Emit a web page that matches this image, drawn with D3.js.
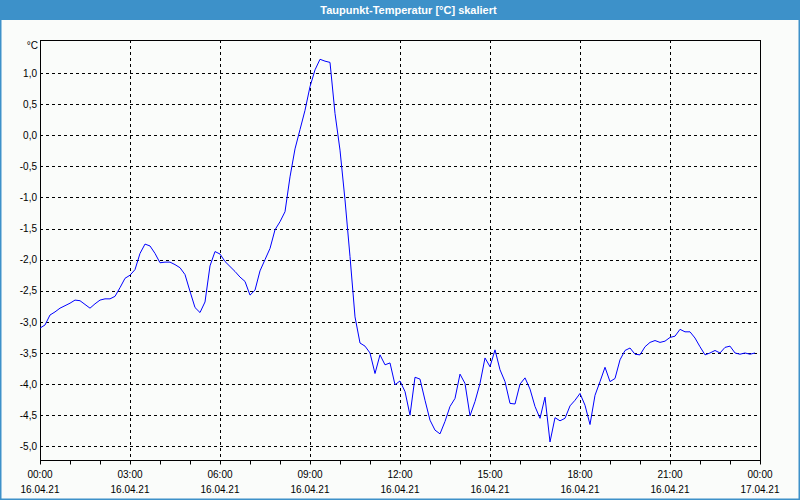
<!DOCTYPE html>
<html><head><meta charset="utf-8">
<script src="https://cdn.jsdelivr.net/npm/d3@7"></script>
<style>
body{margin:0;background:#fff}
svg text{font-family:"Liberation Sans",Arial,sans-serif}
</style>
</head><body>
<svg id="c" width="800" height="500"></svg>
<script>
const title = "Taupunkt-Temperatur [°C] skaliert";
const unitLabel = "°C";
const startTime = new Date(2021, 3, 16, 0, 0);
const endTime = new Date(2021, 3, 17, 0, 0);
const stepMinutes = 10;
// dew point, one value every 10 minutes from 16.04.21 00:00
const dewPoint = [
 -3.10,-3.05,-2.89,-2.84,-2.78,-2.74,-2.70,-2.65,-2.66,-2.72,
 -2.78,-2.71,-2.65,-2.63,-2.63,-2.59,-2.45,-2.30,-2.25,-2.16,
 -1.90,-1.75,-1.78,-1.90,-2.05,-2.04,-2.04,-2.08,-2.13,-2.24,
 -2.51,-2.77,-2.85,-2.68,-2.10,-1.87,-1.91,-2.03,-2.11,-2.19,
 -2.28,-2.35,-2.57,-2.49,-2.18,-2.00,-1.82,-1.52,-1.39,-1.23,
 -0.67,-0.22, 0.09, 0.40, 0.78, 1.05, 1.22, 1.19, 1.17, 0.35,
 -0.24,-1.04,-1.95,-2.92,-3.34,-3.39,-3.50,-3.83,-3.53,-3.69,
 -3.66,-4.01,-3.95,-4.12,-4.50,-3.89,-3.92,-4.26,-4.58,-4.74,
 -4.80,-4.60,-4.36,-4.23,-3.84,-3.99,-4.51,-4.28,-3.99,-3.58,
 -3.72,-3.45,-3.77,-3.96,-4.31,-4.32,-4.00,-3.90,-4.08,-4.36,
 -4.55,-4.21,-4.93,-4.54,-4.59,-4.55,-4.35,-4.26,-4.15,-4.34,
 -4.65,-4.18,-3.96,-3.73,-3.96,-3.91,-3.61,-3.46,-3.42,-3.52,
 -3.53,-3.40,-3.33,-3.30,-3.33,-3.31,-3.25,-3.23,-3.12,-3.16,
 -3.16,-3.26,-3.40,-3.53,-3.50,-3.46,-3.50,-3.41,-3.39,-3.50,
 -3.52,-3.50,-3.52,-3.50
];
const yTicks = [1.0,0.5,0.0,-0.5,-1.0,-1.5,-2.0,-2.5,-3.0,-3.5,-4.0,-4.5,-5.0];
const yDomain = [-5.22, 1.53];
const xLabelStepHours = 3;

const W = 800, H = 500;
const m = {left:40, right:40, top:40, bottom:40};
const svg = d3.select("#c");

const locale = d3.formatLocale({decimal:",", thousands:".", grouping:[3], currency:["","€"], minus:"-"});
const fmtY = locale.format(".1f");
const fmtTime = d3.timeFormat("%H:%M");
const fmtDate = d3.timeFormat("%d.%m.%y");

const data = dewPoint.map((v,i)=>({t:d3.timeMinute.offset(startTime, i*stepMinutes), v}));

const x = d3.scaleTime().domain([startTime, endTime]).range([m.left, W - m.right]);
const y = d3.scaleLinear().domain(yDomain).range([H - m.bottom, m.top]);

// background + frame
svg.append("rect").attr("x",0).attr("y",0).attr("width",W).attr("height",H).attr("fill","#fafcfa");
svg.append("rect").attr("x",0.5).attr("y",0.5).attr("width",W-1).attr("height",H-1)
  .attr("fill","none").attr("stroke","#3d91c9").attr("stroke-width",2);
svg.append("rect").attr("x",0).attr("y",0).attr("width",W).attr("height",20).attr("fill","#3d91c9");
svg.append("text").attr("x",408.5).attr("y",13.5).attr("text-anchor","middle")
  .attr("fill","#fff").attr("font-size","11px").attr("font-weight","bold").text(title);

// grid
const gGrid = svg.append("g").attr("stroke","#000").attr("stroke-width",1).attr("stroke-dasharray","3,3");
gGrid.selectAll("line.h").data(yTicks).join("line").attr("class","h")
  .attr("x1",m.left).attr("x2",W-m.right)
  .attr("y1",d=>Math.round(y(d))+0.5).attr("y2",d=>Math.round(y(d))+0.5);
const vTicks = d3.timeHour.every(xLabelStepHours).range(startTime, endTime).slice(1);
gGrid.selectAll("line.v").data(vTicks).join("line").attr("class","v")
  .attr("y1",m.top).attr("y2",H-m.bottom)
  .attr("x1",d=>Math.round(x(d))+0.5).attr("x2",d=>Math.round(x(d))+0.5);

// axes
const yAxis = d3.axisLeft(y).tickValues(yTicks).tickSize(0).tickPadding(3).tickFormat(fmtY);
const gy = svg.append("g").attr("transform",`translate(${m.left},0)`).call(yAxis);
gy.select(".domain").remove();
gy.selectAll("text").attr("font-size","10px").attr("fill","#000").attr("font-family","Liberation Sans, Arial, sans-serif");

const xAxis = d3.axisBottom(x).ticks(d3.timeHour.every(1)).tickSize(4).tickFormat("");
const gx = svg.append("g").attr("transform",`translate(0,${H-m.bottom+0.5})`).call(xAxis);
gx.select(".domain").remove();
gx.selectAll(".tick line").attr("stroke","#000");

const labelTicks = d3.timeHour.every(xLabelStepHours).range(startTime, d3.timeMinute.offset(endTime,1));
const gl = svg.append("g").attr("font-size","10px").attr("text-anchor","middle").attr("fill","#000");
gl.selectAll("text.t").data(labelTicks).join("text").attr("class","t")
  .attr("x",d=>x(d)).attr("y",477.5).text(fmtTime);
gl.selectAll("text.d").data(labelTicks).join("text").attr("class","d")
  .attr("x",d=>x(d)).attr("y",492.5).text(fmtDate);

svg.append("text").attr("x",38).attr("y",48.5).attr("text-anchor","end")
  .attr("font-size","10px").attr("fill","#000").text(unitLabel);

// plot frame
svg.append("rect").attr("x",m.left+0.5).attr("y",m.top+0.5)
  .attr("width",W-m.left-m.right).attr("height",H-m.top-m.bottom)
  .attr("fill","none").attr("stroke","#000").attr("stroke-width",1);

// line
svg.append("path").datum(data)
  .attr("fill","none").attr("stroke","#0000ff").attr("stroke-width",1)
  .attr("d", d3.line().x(d=>x(d.t)).y(d=>y(d.v)));
</script>
</body></html>
